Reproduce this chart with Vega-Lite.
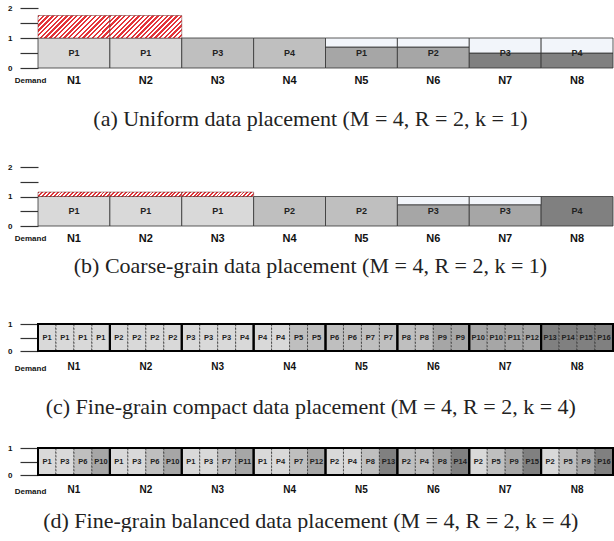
{
"$schema":"https://vega.github.io/schema/vega-lite/v6.json",
"padding":{"left":7,"top":4,"right":0,"bottom":0},
"datasets":{
"nodes":[{"node":"N1"},{"node":"N2"},{"node":"N3"},{"node":"N4"},{"node":"N5"},{"node":"N6"},{"node":"N7"},{"node":"N8"}],
"a":[
{"node":"N1","label":"P1","tier":1,"lo":0,"hi":1,"kind":"base"},
{"node":"N1","label":"","tier":0,"lo":1,"hi":1.75,"kind":"hatch"},
{"node":"N2","label":"P1","tier":1,"lo":0,"hi":1,"kind":"base"},
{"node":"N2","label":"","tier":0,"lo":1,"hi":1.75,"kind":"hatch"},
{"node":"N3","label":"P3","tier":2,"lo":0,"hi":1,"kind":"base"},
{"node":"N4","label":"P4","tier":2,"lo":0,"hi":1,"kind":"base"},
{"node":"N5","label":"P1","tier":3,"lo":0,"hi":0.7,"kind":"base"},
{"node":"N5","label":"","tier":0,"lo":0.7,"hi":1,"kind":"empty"},
{"node":"N6","label":"P2","tier":3,"lo":0,"hi":0.7,"kind":"base"},
{"node":"N6","label":"","tier":0,"lo":0.7,"hi":1,"kind":"empty"},
{"node":"N7","label":"P3","tier":4,"lo":0,"hi":0.5,"kind":"base"},
{"node":"N7","label":"","tier":0,"lo":0.5,"hi":1,"kind":"empty"},
{"node":"N8","label":"P4","tier":4,"lo":0,"hi":0.5,"kind":"base"},
{"node":"N8","label":"","tier":0,"lo":0.5,"hi":1,"kind":"empty"}
],
"b":[
{"node":"N1","label":"P1","tier":1,"lo":0,"hi":1,"kind":"base"},
{"node":"N1","label":"","tier":0,"lo":1,"hi":1.15,"kind":"hatch"},
{"node":"N2","label":"P1","tier":1,"lo":0,"hi":1,"kind":"base"},
{"node":"N2","label":"","tier":0,"lo":1,"hi":1.15,"kind":"hatch"},
{"node":"N3","label":"P1","tier":1,"lo":0,"hi":1,"kind":"base"},
{"node":"N3","label":"","tier":0,"lo":1,"hi":1.15,"kind":"hatch"},
{"node":"N4","label":"P2","tier":2,"lo":0,"hi":1,"kind":"base"},
{"node":"N5","label":"P2","tier":2,"lo":0,"hi":1,"kind":"base"},
{"node":"N6","label":"P3","tier":3,"lo":0,"hi":0.72,"kind":"base"},
{"node":"N6","label":"","tier":0,"lo":0.72,"hi":1,"kind":"empty"},
{"node":"N7","label":"P3","tier":3,"lo":0,"hi":0.72,"kind":"base"},
{"node":"N7","label":"","tier":0,"lo":0.72,"hi":1,"kind":"empty"},
{"node":"N8","label":"P4","tier":4,"lo":0,"hi":1,"kind":"base"}
],
"c":[
{"node":"N1","slot":1,"label":"P1","tier":1},{"node":"N1","slot":2,"label":"P1","tier":1},{"node":"N1","slot":3,"label":"P1","tier":1},{"node":"N1","slot":4,"label":"P1","tier":1},
{"node":"N2","slot":1,"label":"P2","tier":1},{"node":"N2","slot":2,"label":"P2","tier":1},{"node":"N2","slot":3,"label":"P2","tier":1},{"node":"N2","slot":4,"label":"P2","tier":1},
{"node":"N3","slot":1,"label":"P3","tier":1},{"node":"N3","slot":2,"label":"P3","tier":1},{"node":"N3","slot":3,"label":"P3","tier":1},{"node":"N3","slot":4,"label":"P4","tier":1},
{"node":"N4","slot":1,"label":"P4","tier":1},{"node":"N4","slot":2,"label":"P4","tier":1},{"node":"N4","slot":3,"label":"P5","tier":2},{"node":"N4","slot":4,"label":"P5","tier":2},
{"node":"N5","slot":1,"label":"P6","tier":2},{"node":"N5","slot":2,"label":"P6","tier":2},{"node":"N5","slot":3,"label":"P7","tier":2},{"node":"N5","slot":4,"label":"P7","tier":2},
{"node":"N6","slot":1,"label":"P8","tier":2},{"node":"N6","slot":2,"label":"P8","tier":2},{"node":"N6","slot":3,"label":"P9","tier":3},{"node":"N6","slot":4,"label":"P9","tier":3},
{"node":"N7","slot":1,"label":"P10","tier":3},{"node":"N7","slot":2,"label":"P10","tier":3},{"node":"N7","slot":3,"label":"P11","tier":3},{"node":"N7","slot":4,"label":"P12","tier":3},
{"node":"N8","slot":1,"label":"P13","tier":4},{"node":"N8","slot":2,"label":"P14","tier":4},{"node":"N8","slot":3,"label":"P15","tier":4},{"node":"N8","slot":4,"label":"P16","tier":4}
],
"d":[
{"node":"N1","slot":1,"label":"P1","tier":1},{"node":"N1","slot":2,"label":"P3","tier":1},{"node":"N1","slot":3,"label":"P6","tier":2},{"node":"N1","slot":4,"label":"P10","tier":3},
{"node":"N2","slot":1,"label":"P1","tier":1},{"node":"N2","slot":2,"label":"P3","tier":1},{"node":"N2","slot":3,"label":"P6","tier":2},{"node":"N2","slot":4,"label":"P10","tier":3},
{"node":"N3","slot":1,"label":"P1","tier":1},{"node":"N3","slot":2,"label":"P3","tier":1},{"node":"N3","slot":3,"label":"P7","tier":2},{"node":"N3","slot":4,"label":"P11","tier":3},
{"node":"N4","slot":1,"label":"P1","tier":1},{"node":"N4","slot":2,"label":"P4","tier":1},{"node":"N4","slot":3,"label":"P7","tier":2},{"node":"N4","slot":4,"label":"P12","tier":3},
{"node":"N5","slot":1,"label":"P2","tier":1},{"node":"N5","slot":2,"label":"P4","tier":1},{"node":"N5","slot":3,"label":"P8","tier":2},{"node":"N5","slot":4,"label":"P13","tier":4},
{"node":"N6","slot":1,"label":"P2","tier":2},{"node":"N6","slot":2,"label":"P4","tier":2},{"node":"N6","slot":3,"label":"P8","tier":3},{"node":"N6","slot":4,"label":"P14","tier":4},
{"node":"N7","slot":1,"label":"P2","tier":1},{"node":"N7","slot":2,"label":"P5","tier":2},{"node":"N7","slot":3,"label":"P9","tier":3},{"node":"N7","slot":4,"label":"P15","tier":4},
{"node":"N8","slot":1,"label":"P2","tier":1},{"node":"N8","slot":2,"label":"P5","tier":2},{"node":"N8","slot":3,"label":"P9","tier":3},{"node":"N8","slot":4,"label":"P16","tier":4}
]
},
"config":{
"view":{"stroke":null},
"font":"Liberation Sans",
"axisX":{"ticks":false,"tickSize":0,"domain":false,"grid":false,"labelFont":"Liberation Sans","labelFontWeight":"bold","labelFontSize":11,"labelColor":"#111","labelAngle":0,"titleFont":"Liberation Sans","titleFontSize":8,"titleFontWeight":"bold","titleColor":"#111","titleAlign":"center","titleBaseline":"middle","titleX":-8},
"axisY":{"domain":false,"grid":false,"tickSize":18,"tickColor":"#333","tickWidth":1.2,"labelPadding":8,"labelFont":"Liberation Sans","labelFontSize":8,"labelFontWeight":"bold","labelColor":"#111"},
"title":{"orient":"bottom","font":"Liberation Serif","fontSize":22,"fontWeight":"normal","color":"#222","frame":"bounds","anchor":"middle"}
},
"vconcat":[
{"spacing":33,"vconcat":[
{"width":575,"height":60,
"title":{"text":"(a) Uniform data placement (M = 4, R = 2, k = 1)","offset":23.5},
"encoding":{
"x":{"field":"node","type":"nominal","scale":{"paddingInner":0,"paddingOuter":0},"axis":{"title":"Demand","labelPadding":6.5,"titleY":12}},
"y":{"field":"lo","type":"quantitative","scale":{"domain":[0,2],"nice":false},"axis":{"title":null,"values":[0,0.5,1,1.5,2],"labelExpr":"datum.value % 1 == 0 ? format(datum.value, 'd') : ''"}},
"y2":{"field":"hi"}
},
"layer":[
{"data":{"name":"a"},"transform":[{"filter":"datum.kind == 'base'"}],"mark":{"type":"rect","stroke":"#333","strokeWidth":0.8},
"encoding":{"fill":{"field":"tier","type":"ordinal","scale":{"domain":[1,2,3,4],"range":["#d9d9d9","#bfbfbf","#a6a6a6","#808080"]},"legend":null}}},
{"data":{"name":"a"},"transform":[{"filter":"datum.kind == 'hatch'"}],"mark":{"type":"rect","stroke":"#6a2020","strokeWidth":0.5,
"fill":{"gradient":"linear","x1":0,"y1":0,"x2":1.2,"y2":0.375,"stops":[
{"offset":0,"color":"#e3343a"},{"offset":0.025,"color":"#e3343a"},{"offset":0.025,"color":"#ffffff"},{"offset":0.05,"color":"#ffffff"},
{"offset":0.05,"color":"#e3343a"},{"offset":0.075,"color":"#e3343a"},{"offset":0.075,"color":"#ffffff"},{"offset":0.1,"color":"#ffffff"},
{"offset":0.1,"color":"#e3343a"},{"offset":0.125,"color":"#e3343a"},{"offset":0.125,"color":"#ffffff"},{"offset":0.15,"color":"#ffffff"},
{"offset":0.15,"color":"#e3343a"},{"offset":0.175,"color":"#e3343a"},{"offset":0.175,"color":"#ffffff"},{"offset":0.2,"color":"#ffffff"},
{"offset":0.2,"color":"#e3343a"},{"offset":0.225,"color":"#e3343a"},{"offset":0.225,"color":"#ffffff"},{"offset":0.25,"color":"#ffffff"},
{"offset":0.25,"color":"#e3343a"},{"offset":0.275,"color":"#e3343a"},{"offset":0.275,"color":"#ffffff"},{"offset":0.3,"color":"#ffffff"},
{"offset":0.3,"color":"#e3343a"},{"offset":0.325,"color":"#e3343a"},{"offset":0.325,"color":"#ffffff"},{"offset":0.35,"color":"#ffffff"},
{"offset":0.35,"color":"#e3343a"},{"offset":0.375,"color":"#e3343a"},{"offset":0.375,"color":"#ffffff"},{"offset":0.4,"color":"#ffffff"},
{"offset":0.4,"color":"#e3343a"},{"offset":0.425,"color":"#e3343a"},{"offset":0.425,"color":"#ffffff"},{"offset":0.45,"color":"#ffffff"},
{"offset":0.45,"color":"#e3343a"},{"offset":0.475,"color":"#e3343a"},{"offset":0.475,"color":"#ffffff"},{"offset":0.5,"color":"#ffffff"},
{"offset":0.5,"color":"#e3343a"},{"offset":0.525,"color":"#e3343a"},{"offset":0.525,"color":"#ffffff"},{"offset":0.55,"color":"#ffffff"},
{"offset":0.55,"color":"#e3343a"},{"offset":0.575,"color":"#e3343a"},{"offset":0.575,"color":"#ffffff"},{"offset":0.6,"color":"#ffffff"},
{"offset":0.6,"color":"#e3343a"},{"offset":0.625,"color":"#e3343a"},{"offset":0.625,"color":"#ffffff"},{"offset":0.65,"color":"#ffffff"},
{"offset":0.65,"color":"#e3343a"},{"offset":0.675,"color":"#e3343a"},{"offset":0.675,"color":"#ffffff"},{"offset":0.7,"color":"#ffffff"},
{"offset":0.7,"color":"#e3343a"},{"offset":0.725,"color":"#e3343a"},{"offset":0.725,"color":"#ffffff"},{"offset":0.75,"color":"#ffffff"},
{"offset":0.75,"color":"#e3343a"},{"offset":0.775,"color":"#e3343a"},{"offset":0.775,"color":"#ffffff"},{"offset":0.8,"color":"#ffffff"},
{"offset":0.8,"color":"#e3343a"},{"offset":0.825,"color":"#e3343a"},{"offset":0.825,"color":"#ffffff"},{"offset":0.85,"color":"#ffffff"},
{"offset":0.85,"color":"#e3343a"},{"offset":0.875,"color":"#e3343a"},{"offset":0.875,"color":"#ffffff"},{"offset":0.9,"color":"#ffffff"},
{"offset":0.9,"color":"#e3343a"},{"offset":0.925,"color":"#e3343a"},{"offset":0.925,"color":"#ffffff"},{"offset":0.95,"color":"#ffffff"},
{"offset":0.95,"color":"#e3343a"},{"offset":0.975,"color":"#e3343a"},{"offset":0.975,"color":"#ffffff"},{"offset":1,"color":"#ffffff"}
]}},"encoding":{}},
{"data":{"name":"a"},"transform":[{"filter":"datum.kind == 'empty'"}],"mark":{"type":"rect","fill":"#f2f5fa","stroke":"#333","strokeWidth":0.8},"encoding":{}},
{"data":{"name":"nodes"},"mark":{"type":"rect","fillOpacity":0,"stroke":"#000","strokeWidth":2},
"encoding":{"y":{"datum":0,"type":"quantitative","scale":{"domain":[0,2],"nice":false},"axis":{"title":null,"values":[0,0.5,1,1.5,2],"labelExpr":"datum.value % 1 == 0 ? format(datum.value, 'd') : ''"}},"y2":{"datum":1}}},
{"data":{"name":"a"},"transform":[{"filter":"datum.kind == 'base'"}],"mark":{"type":"text","font":"Liberation Sans","fontWeight":"bold","fontSize":9,"color":"#222"},
"encoding":{"y":{"datum":0.5,"type":"quantitative","scale":{"domain":[0,2],"nice":false},"axis":{"title":null,"values":[0,0.5,1,1.5,2],"labelExpr":"datum.value % 1 == 0 ? format(datum.value, 'd') : ''"}},"y2":null,"text":{"field":"label"}}}
]},
{"width":575,"height":59,
"title":{"text":"(b) Coarse-grain data placement (M = 4, R = 2, k = 1)","offset":12},
"encoding":{
"x":{"field":"node","type":"nominal","scale":{"paddingInner":0,"paddingOuter":0},"axis":{"title":"Demand","labelPadding":6.5,"titleY":12}},
"y":{"field":"lo","type":"quantitative","scale":{"domain":[0,2],"nice":false},"axis":{"title":null,"values":[0,0.5,1,1.5,2],"labelExpr":"datum.value % 1 == 0 ? format(datum.value, 'd') : ''"}},
"y2":{"field":"hi"}
},
"layer":[
{"data":{"name":"b"},"transform":[{"filter":"datum.kind == 'base'"}],"mark":{"type":"rect","stroke":"#333","strokeWidth":0.8},
"encoding":{"fill":{"field":"tier","type":"ordinal","scale":{"domain":[1,2,3,4],"range":["#d9d9d9","#bfbfbf","#a6a6a6","#808080"]},"legend":null}}},
{"data":{"name":"b"},"transform":[{"filter":"datum.kind == 'hatch'"}],"mark":{"type":"rect","stroke":"#6a2020","strokeWidth":0.5,
"fill":{"gradient":"linear","x1":0,"y1":0,"x2":1.06,"y2":0.065,"stops":[
{"offset":0,"color":"#e3343a"},{"offset":0.025,"color":"#e3343a"},{"offset":0.025,"color":"#ffffff"},{"offset":0.05,"color":"#ffffff"},
{"offset":0.05,"color":"#e3343a"},{"offset":0.075,"color":"#e3343a"},{"offset":0.075,"color":"#ffffff"},{"offset":0.1,"color":"#ffffff"},
{"offset":0.1,"color":"#e3343a"},{"offset":0.125,"color":"#e3343a"},{"offset":0.125,"color":"#ffffff"},{"offset":0.15,"color":"#ffffff"},
{"offset":0.15,"color":"#e3343a"},{"offset":0.175,"color":"#e3343a"},{"offset":0.175,"color":"#ffffff"},{"offset":0.2,"color":"#ffffff"},
{"offset":0.2,"color":"#e3343a"},{"offset":0.225,"color":"#e3343a"},{"offset":0.225,"color":"#ffffff"},{"offset":0.25,"color":"#ffffff"},
{"offset":0.25,"color":"#e3343a"},{"offset":0.275,"color":"#e3343a"},{"offset":0.275,"color":"#ffffff"},{"offset":0.3,"color":"#ffffff"},
{"offset":0.3,"color":"#e3343a"},{"offset":0.325,"color":"#e3343a"},{"offset":0.325,"color":"#ffffff"},{"offset":0.35,"color":"#ffffff"},
{"offset":0.35,"color":"#e3343a"},{"offset":0.375,"color":"#e3343a"},{"offset":0.375,"color":"#ffffff"},{"offset":0.4,"color":"#ffffff"},
{"offset":0.4,"color":"#e3343a"},{"offset":0.425,"color":"#e3343a"},{"offset":0.425,"color":"#ffffff"},{"offset":0.45,"color":"#ffffff"},
{"offset":0.45,"color":"#e3343a"},{"offset":0.475,"color":"#e3343a"},{"offset":0.475,"color":"#ffffff"},{"offset":0.5,"color":"#ffffff"},
{"offset":0.5,"color":"#e3343a"},{"offset":0.525,"color":"#e3343a"},{"offset":0.525,"color":"#ffffff"},{"offset":0.55,"color":"#ffffff"},
{"offset":0.55,"color":"#e3343a"},{"offset":0.575,"color":"#e3343a"},{"offset":0.575,"color":"#ffffff"},{"offset":0.6,"color":"#ffffff"},
{"offset":0.6,"color":"#e3343a"},{"offset":0.625,"color":"#e3343a"},{"offset":0.625,"color":"#ffffff"},{"offset":0.65,"color":"#ffffff"},
{"offset":0.65,"color":"#e3343a"},{"offset":0.675,"color":"#e3343a"},{"offset":0.675,"color":"#ffffff"},{"offset":0.7,"color":"#ffffff"},
{"offset":0.7,"color":"#e3343a"},{"offset":0.725,"color":"#e3343a"},{"offset":0.725,"color":"#ffffff"},{"offset":0.75,"color":"#ffffff"},
{"offset":0.75,"color":"#e3343a"},{"offset":0.775,"color":"#e3343a"},{"offset":0.775,"color":"#ffffff"},{"offset":0.8,"color":"#ffffff"},
{"offset":0.8,"color":"#e3343a"},{"offset":0.825,"color":"#e3343a"},{"offset":0.825,"color":"#ffffff"},{"offset":0.85,"color":"#ffffff"},
{"offset":0.85,"color":"#e3343a"},{"offset":0.875,"color":"#e3343a"},{"offset":0.875,"color":"#ffffff"},{"offset":0.9,"color":"#ffffff"},
{"offset":0.9,"color":"#e3343a"},{"offset":0.925,"color":"#e3343a"},{"offset":0.925,"color":"#ffffff"},{"offset":0.95,"color":"#ffffff"},
{"offset":0.95,"color":"#e3343a"},{"offset":0.975,"color":"#e3343a"},{"offset":0.975,"color":"#ffffff"},{"offset":1,"color":"#ffffff"}
]}},"encoding":{}},
{"data":{"name":"b"},"transform":[{"filter":"datum.kind == 'empty'"}],"mark":{"type":"rect","fill":"#f2f5fa","stroke":"#333","strokeWidth":0.8},"encoding":{}},
{"data":{"name":"nodes"},"mark":{"type":"rect","fillOpacity":0,"stroke":"#000","strokeWidth":2},
"encoding":{"y":{"datum":0,"type":"quantitative","scale":{"domain":[0,2],"nice":false},"axis":{"title":null,"values":[0,0.5,1,1.5,2],"labelExpr":"datum.value % 1 == 0 ? format(datum.value, 'd') : ''"}},"y2":{"datum":1}}},
{"data":{"name":"b"},"transform":[{"filter":"datum.kind == 'base'"}],"mark":{"type":"text","font":"Liberation Sans","fontWeight":"bold","fontSize":9,"color":"#222"},
"encoding":{"y":{"datum":0.5,"type":"quantitative","scale":{"domain":[0,2],"nice":false},"axis":{"title":null,"values":[0,0.5,1,1.5,2],"labelExpr":"datum.value % 1 == 0 ? format(datum.value, 'd') : ''"}},"y2":null,"text":{"field":"label"}}}
]}
]},
{"spacing":26,"vconcat":[
{"width":575,"height":27,
"title":{"text":"(c) Fine-grain compact data placement (M = 4, R = 2, k = 4)","offset":25},
"encoding":{
"x":{"field":"node","type":"nominal","scale":{"paddingInner":0,"paddingOuter":0},"axis":{"title":"Demand","labelPadding":10,"labelFontSize":10,"titleY":17}},
"y":{"datum":0,"type":"quantitative","scale":{"domain":[0,1],"nice":false},"axis":{"title":null,"values":[0,0.5,1],"labelExpr":"datum.value % 1 == 0 ? format(datum.value, 'd') : ''"}},
"y2":{"datum":1}
},
"layer":[
{"data":{"name":"c"},"mark":{"type":"rect","stroke":"#333","strokeWidth":0.8,"strokeDash":[2,1.5]},
"encoding":{"xOffset":{"field":"slot","type":"ordinal","scale":{"paddingInner":0,"paddingOuter":0}},
"fill":{"field":"tier","type":"ordinal","scale":{"domain":[1,2,3,4],"range":["#d9d9d9","#bfbfbf","#a6a6a6","#808080"]},"legend":null}}},
{"data":{"name":"nodes"},"mark":{"type":"rect","fillOpacity":0,"stroke":"#000","strokeWidth":2},"encoding":{}},
{"data":{"name":"c"},"mark":{"type":"text","font":"Liberation Sans","fontWeight":"bold","fontSize":7.5,"color":"#222"},
"encoding":{"xOffset":{"field":"slot","type":"ordinal"},"y":{"datum":0.5,"type":"quantitative","scale":{"domain":[0,1],"nice":false},"axis":{"title":null,"values":[0,0.5,1],"labelExpr":"datum.value % 1 == 0 ? format(datum.value, 'd') : ''"}},"y2":null,"text":{"field":"label"}}}
]},
{"width":575,"height":27,
"title":{"text":"(d) Fine-grain balanced data placement (M = 4, R = 2, k = 4)","offset":15},
"encoding":{
"x":{"field":"node","type":"nominal","scale":{"paddingInner":0,"paddingOuter":0},"axis":{"title":"Demand","labelPadding":9,"labelFontSize":10,"titleY":16.5}},
"y":{"datum":0,"type":"quantitative","scale":{"domain":[0,1],"nice":false},"axis":{"title":null,"values":[0,0.5,1],"labelExpr":"datum.value % 1 == 0 ? format(datum.value, 'd') : ''"}},
"y2":{"datum":1}
},
"layer":[
{"data":{"name":"d"},"mark":{"type":"rect","stroke":"#333","strokeWidth":0.8,"strokeDash":[2,1.5]},
"encoding":{"xOffset":{"field":"slot","type":"ordinal","scale":{"paddingInner":0,"paddingOuter":0}},
"fill":{"field":"tier","type":"ordinal","scale":{"domain":[1,2,3,4],"range":["#d9d9d9","#bfbfbf","#a6a6a6","#808080"]},"legend":null}}},
{"data":{"name":"nodes"},"mark":{"type":"rect","fillOpacity":0,"stroke":"#000","strokeWidth":2},"encoding":{}},
{"data":{"name":"d"},"mark":{"type":"text","font":"Liberation Sans","fontWeight":"bold","fontSize":7.5,"color":"#222"},
"encoding":{"xOffset":{"field":"slot","type":"ordinal"},"y":{"datum":0.5,"type":"quantitative","scale":{"domain":[0,1],"nice":false},"axis":{"title":null,"values":[0,0.5,1],"labelExpr":"datum.value % 1 == 0 ? format(datum.value, 'd') : ''"}},"y2":null,"text":{"field":"label"}}}
]}
]}
],
"spacing":43
}
